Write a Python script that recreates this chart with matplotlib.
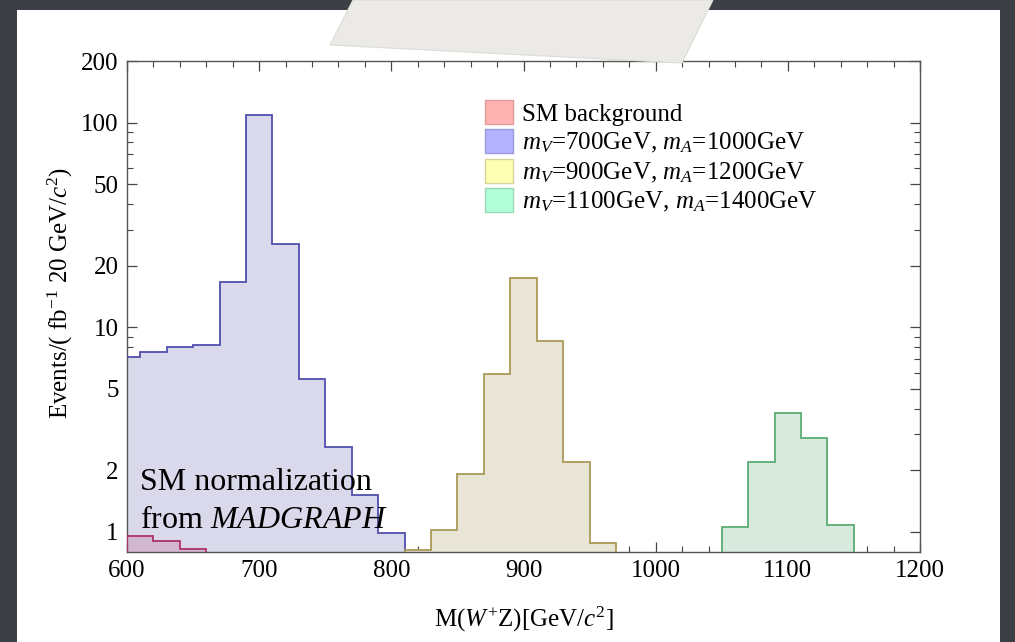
import matplotlib
matplotlib.use("Agg")
import matplotlib.pyplot as plt
import numpy as np
from matplotlib.patches import Patch, Polygon, Rectangle
from matplotlib.ticker import FixedLocator, FixedFormatter, NullFormatter

plt.rcParams['font.family'] = ['Liberation Serif', 'DejaVu Serif']
plt.rcParams['mathtext.fontset'] = 'custom'
plt.rcParams['mathtext.rm'] = 'Liberation Serif'
plt.rcParams['mathtext.it'] = 'Liberation Serif:italic'
plt.rcParams['mathtext.bf'] = 'Liberation Serif:bold'

# ---- data ----
sm_edges = [600, 620, 640, 660]
sm_values = [0.95, 0.90, 0.82]

v700_edges = [590, 610, 630, 650, 670, 690, 710, 730, 750, 770, 790, 810]
v700_values = [7.13, 7.54, 8.0, 8.18, 16.7, 109.0, 25.4, 5.58, 2.59, 1.52, 0.99]

v900_edges = [810, 830, 850, 870, 890, 910, 930, 950, 970]
v900_values = [0.81, 1.02, 1.92, 5.93, 17.4, 8.53, 2.20, 0.88]

v1100_edges = [1050, 1070, 1090, 1110, 1130, 1150]
v1100_values = [1.05, 2.18, 3.80, 2.88, 1.08]

labels = ["SM background",
          "$m_V$=700GeV, $m_A$=1000GeV",
          "$m_V$=900GeV, $m_A$=1200GeV",
          "$m_V$=1100GeV, $m_A$=1400GeV"]

ytick_vals = [1, 2, 5, 10, 20, 50, 100, 200]
ytick_labels = ["1", "2", "5", "10", "20", "50", "100", "200"]
xtick_vals = [600, 700, 800, 900, 1000, 1100, 1200]

W, H = 1015, 642
fig = plt.figure(figsize=(W / 100, H / 100), dpi=100)
fig.patch.set_facecolor('#3c3f45')

# white slide panel
fig.add_artist(Rectangle((17 / W, 0), (1000 - 17) / W, (H - 10) / H,
                         transform=fig.transFigure, facecolor='white',
                         edgecolor='none', zorder=-5))

ax = fig.add_axes([127 / W, 1 - 552 / H, (920 - 127) / W, (552 - 61) / H])
ax.set_facecolor('white')
ax.set_yscale('log')
ax.set_xlim(600, 1200)
ax.set_ylim(0.796, 200)

base = 1e-3
# signal histograms
ax.stairs(v700_values, v700_edges, baseline=base, fill=True,
          facecolor='#dad9ec', edgecolor='none', zorder=2)
ax.stairs(v700_values, v700_edges, baseline=base, fill=False,
          color='#4f4fae', lw=1.3, zorder=3)
ax.stairs(v900_values, v900_edges, baseline=base, fill=True,
          facecolor='#e9e6d8', edgecolor='none', zorder=2)
ax.stairs(v900_values, v900_edges, baseline=base, fill=False,
          color='#a89a55', lw=1.3, zorder=3)
ax.stairs(v1100_values, v1100_edges, baseline=base, fill=True,
          facecolor='#d7eadd', edgecolor='none', zorder=2)
ax.stairs(v1100_values, v1100_edges, baseline=base, fill=False,
          color='#5aad72', lw=1.3, zorder=3)
# SM background
ax.stairs(sm_values, sm_edges, baseline=base, fill=True,
          facecolor=(0.69, 0.19, 0.42, 0.2), edgecolor='none', zorder=4)
ax.stairs(sm_values, sm_edges, baseline=base, fill=False,
          color='#b0306a', lw=1.3, zorder=5)

# ticks
ax.xaxis.set_major_locator(FixedLocator(xtick_vals))
ax.xaxis.set_minor_locator(FixedLocator(np.arange(600, 1201, 20)))
ax.yaxis.set_major_locator(FixedLocator(ytick_vals))
ax.yaxis.set_major_formatter(FixedFormatter(ytick_labels))
minor_y = [3, 4, 6, 7, 8, 9, 30, 40, 60, 70, 80, 90]
ax.yaxis.set_minor_locator(FixedLocator(minor_y))
ax.yaxis.set_minor_formatter(NullFormatter())
ax.tick_params(which='both', direction='in', top=True, right=True,
               colors='#444444', labelcolor='black', labelsize=18)
ax.tick_params(which='major', length=7.5, width=0.9, pad=6)
ax.tick_params(which='minor', length=4, width=0.8)
for sp in ax.spines.values():
    sp.set_color('#555555')
    sp.set_linewidth(1.0)

ax.set_xlabel("M($W^{+}$Z)[GeV/$c^{2}$]", fontsize=18, labelpad=16)
ax.set_ylabel("Events/( fb$^{-1}$ 20 GeV/$c^{2}$)", fontsize=18)
ax.yaxis.set_label_coords(-0.066, 0.527)

# annotation
ax.text(0.0164, 0.1263, "SM normalization", transform=ax.transAxes,
        fontsize=23, va='baseline', ha='left', zorder=6)
ax.text(0.0164, 0.0495, "from $\\mathit{MADGRAPH}$", transform=ax.transAxes,
        fontsize=23, va='baseline', ha='left', zorder=6)

# legend
handles = [Patch(facecolor='#ffb3b3', edgecolor='#e59a9a', lw=1.0),
           Patch(facecolor='#b3b3ff', edgecolor='#9a9ae0', lw=1.0),
           Patch(facecolor='#ffffb3', edgecolor='#d6d69a', lw=1.0),
           Patch(facecolor='#b3ffd9', edgecolor='#9ad9b8', lw=1.0)]
leg = ax.legend(handles, labels, loc='upper left',
                bbox_to_anchor=(485 / W, 1 - 100 / H),
                bbox_transform=fig.transFigure, frameon=False,
                fontsize=18, handlelength=1.1, handleheight=1.1,
                handletextpad=0.4, labelspacing=0.14, borderpad=0,
                borderaxespad=0)
leg.set_zorder(7)

# grey paper strip at the top
fig.add_artist(Polygon([(353 / W, 1.0), (713 / W, 1.0), (682 / W, 1 - 63 / H),
                        (330 / W, 1 - 45 / H)], closed=True,
                       transform=fig.transFigure, facecolor='#ebeae6',
                       edgecolor='#dcdbd6', lw=0.8, zorder=10))

fig.savefig("out.png", dpi=100, facecolor=fig.get_facecolor())
